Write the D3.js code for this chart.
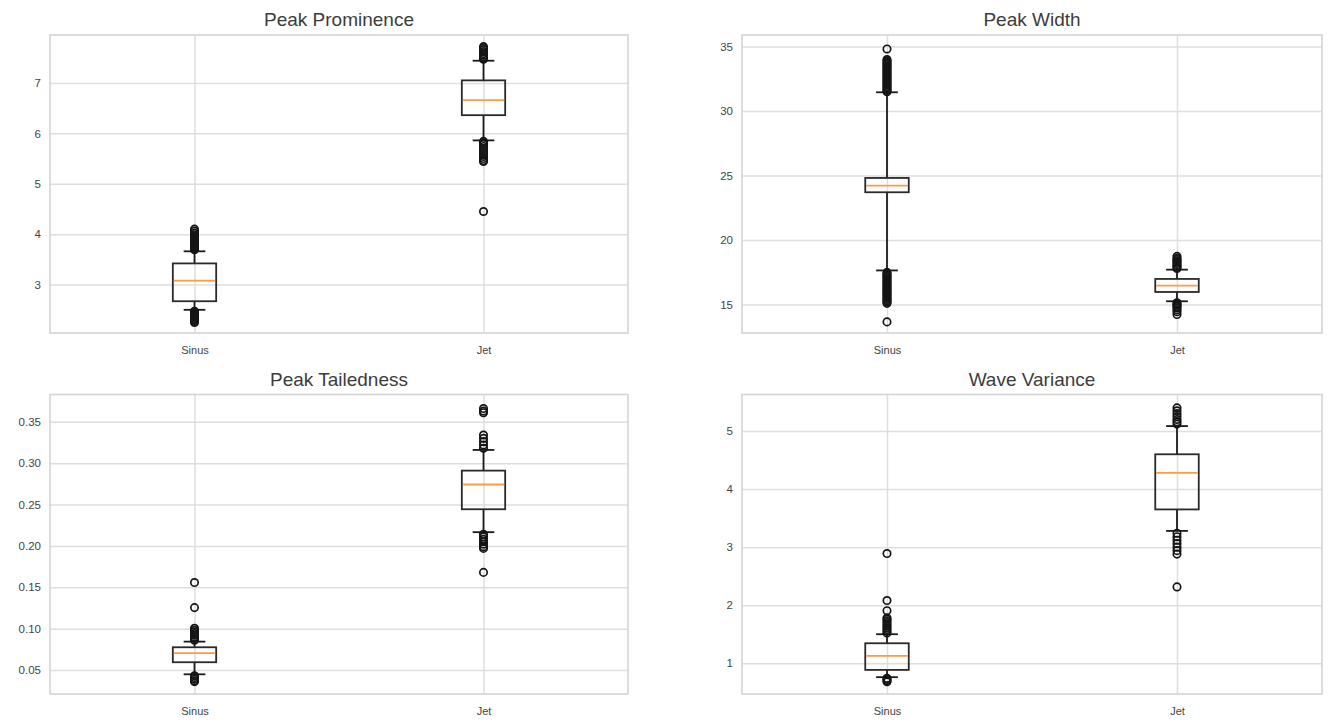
<!DOCTYPE html>
<html>
<head>
<meta charset="utf-8">
<script src="https://cdn.jsdelivr.net/npm/d3@7"></script>
<style>
  body { margin: 0; background: #fff; }
  svg { display: block; font-family: "Liberation Sans", Arial, sans-serif; }
  .grid line { stroke: #dedede; stroke-width: 1.5; }
  .frame { fill: none; stroke: #d4d4d4; stroke-width: 1.6; }
  .tick text { fill: #444; }
  .title { fill: #3c3c3c; }
</style>
</head>
<body>
<svg width="1330" height="726"></svg>
<script>
const width = 1330;
const height = 726;

const categories = ["Sinus", "Jet"];
const titles = ["Peak Prominence", "Peak Width", "Peak Tailedness", "Wave Variance"];

// y ranges and ticks
const yDomains = [[2.04, 7.95], [12.8, 35.9], [0.021, 0.383], [0.47, 5.63]];
const yTicks = [
  [3, 4, 5, 6, 7],
  [15, 20, 25, 30, 35],
  [0.05, 0.10, 0.15, 0.20, 0.25, 0.30, 0.35],
  [1, 2, 3, 4, 5]
];
const tickFormats = ["d", "d", ".2f", "d"];

// box stats per panel: [Sinus, Jet] -> [lowCap, q1, median, q3, highCap]
const prominenceStats = [[2.50, 2.67, 3.08, 3.42, 3.66], [5.86, 6.36, 6.66, 7.05, 7.44]];
const widthStats = [[17.65, 23.71, 24.23, 24.82, 31.46], [15.26, 15.98, 16.47, 16.99, 17.71]];
const tailStats = [[0.0448, 0.0594, 0.0703, 0.0775, 0.0843], [0.2166, 0.2443, 0.2742, 0.2910, 0.3160]];
const varianceStats = [[0.76, 0.885, 1.126, 1.344, 1.50], [3.28, 3.65, 4.28, 4.60, 5.086]];

// fliers per panel: [Sinus, Jet]
const prominenceFliers = [
  [3.69, 3.71, 3.73, 3.75, 3.77, 3.79, 3.81, 3.83, 3.85, 3.87, 3.89, 3.91, 3.93, 3.95, 3.97, 3.99, 4.02, 4.06, 4.10,
   2.47, 2.45, 2.43, 2.41, 2.39, 2.37, 2.35, 2.33, 2.31, 2.29, 2.27, 2.25],
  [7.47, 7.49, 7.52, 7.55, 7.58, 7.62, 7.66, 7.69, 7.72,
   5.84, 5.81, 5.78, 5.74, 5.70, 5.66, 5.62, 5.58, 5.54, 5.50, 5.46, 5.44, 4.45]
];
const widthFliers = [
  [31.5, 31.6, 31.7, 31.8, 31.9, 32.0, 32.1, 32.2, 32.3, 32.4, 32.5, 32.6, 32.7, 32.8, 32.9, 33.0, 33.1, 33.2,
   33.3, 33.4, 33.5, 33.6, 33.7, 33.8, 33.9, 34.0, 34.82,
   17.5, 17.4, 17.3, 17.2, 17.1, 17.0, 16.9, 16.8, 16.7, 16.6, 16.5, 16.4, 16.3, 16.2, 16.1, 16.0, 15.9, 15.8,
   15.7, 15.6, 15.5, 15.4, 15.3, 15.2, 15.1, 13.66],
  [17.8, 17.9, 18.0, 18.1, 18.2, 18.3, 18.4, 18.5, 18.6, 18.74,
   15.15, 15.05, 14.95, 14.85, 14.75, 14.6, 14.45, 14.23]
];
const tailFliers = [
  [0.086, 0.088, 0.090, 0.092, 0.094, 0.096, 0.098, 0.1005, 0.1254, 0.1557,
   0.043, 0.041, 0.039, 0.037, 0.036],
  [0.318, 0.322, 0.326, 0.330, 0.334, 0.361, 0.363, 0.366,
   0.214, 0.211, 0.208, 0.205, 0.202, 0.199, 0.197, 0.168]
];
const varianceFliers = [
  [1.52, 1.55, 1.58, 1.61, 1.64, 1.67, 1.70, 1.73, 1.76, 1.78, 1.905, 2.08, 2.89,
   0.74, 0.72, 0.70, 0.68],
  [5.12, 5.16, 5.20, 5.25, 5.30, 5.35, 5.40,
   3.24, 3.18, 3.12, 3.06, 3.00, 2.94, 2.88, 2.315]
];

const allStats = [prominenceStats, widthStats, tailStats, varianceStats];
const allFliers = [prominenceFliers, widthFliers, tailFliers, varianceFliers];

// panel frames: left, top, width, height
const panels = [
  { x: 50, y: 35, w: 578, h: 298 },
  { x: 742, y: 35, w: 580, h: 298 },
  { x: 50, y: 394.5, w: 578, h: 299.5 },
  { x: 742, y: 394.5, w: 580, h: 299.5 }
];

const svg = d3.select("svg");

const render = (i) => {
  const p = panels[i];
  const stats = allStats[i];
  const fliers = allFliers[i];

  const g = svg.append("g").attr("transform", `translate(${p.x}, ${p.y})`);

  // positions 1,2 on [0.5, 2.5] like matplotlib
  const xScale = d3.scaleLinear().domain([0.5, 2.5]).range([0, p.w]);
  const yScale = d3.scaleLinear().domain(yDomains[i]).range([p.h, 0]);
  const boxW = xScale(1.075) - xScale(0.925);
  const capW = boxW / 2;

  // grid
  const yGrid = g.append("g").attr("class", "grid")
    .call(d3.axisLeft(yScale).tickValues(yTicks[i]).tickSize(-p.w).tickFormat(""));
  yGrid.select(".domain").remove();

  const xGrid = g.append("g").attr("class", "grid")
    .attr("transform", `translate(0, ${p.h})`)
    .call(d3.axisBottom(xScale).tickValues([1, 2]).tickSize(p.h).tickFormat(""));
  xGrid.select(".domain").remove();
  xGrid.selectAll("line").attr("y2", -p.h);

  // tick labels
  const yAxisG = g.append("g")
    .call(d3.axisLeft(yScale).tickValues(yTicks[i]).tickSize(0).tickPadding(9)
      .tickFormat(d3.format(tickFormats[i])));
  yAxisG.select(".domain").remove();
  yAxisG.selectAll("text").style("font-size", "11.5px");

  const xAxisG = g.append("g")
    .attr("transform", `translate(0, ${p.h})`)
    .call(d3.axisBottom(xScale).tickValues([1, 2]).tickSize(0).tickPadding(13)
      .tickFormat((d, k) => categories[k]));
  xAxisG.select(".domain").remove();
  xAxisG.selectAll("text").style("font-size", "11px");

  g.append("rect").attr("class", "frame")
    .attr("x", 0).attr("y", 0).attr("width", p.w).attr("height", p.h);

  // boxes
  const boxes = g.selectAll(".box")
    .data(stats)
    .enter()
    .append("g")
    .attr("class", "box")
    .attr("transform", (d, k) => `translate(${xScale(k + 1)}, 0)`);

  boxes.append("line")
    .attr("x1", 0).attr("x2", 0)
    .attr("y1", d => yScale(d[0])).attr("y2", d => yScale(d[1]))
    .attr("stroke", "#1a1a1a").attr("stroke-width", 1.8);
  boxes.append("line")
    .attr("x1", 0).attr("x2", 0)
    .attr("y1", d => yScale(d[3])).attr("y2", d => yScale(d[4]))
    .attr("stroke", "#1a1a1a").attr("stroke-width", 1.8);

  boxes.selectAll(".cap")
    .data(d => [d[0], d[4]])
    .enter()
    .append("line")
    .attr("x1", -capW / 2).attr("x2", capW / 2)
    .attr("y1", d => yScale(d)).attr("y2", d => yScale(d))
    .attr("stroke", "#1a1a1a").attr("stroke-width", 1.8);

  boxes.append("rect")
    .attr("x", -boxW / 2)
    .attr("width", boxW)
    .attr("y", d => yScale(d[3]))
    .attr("height", d => yScale(d[1]) - yScale(d[3]))
    .attr("fill", "none")
    .attr("stroke", "#2a2a2a")
    .attr("stroke-width", 1.8);

  boxes.append("line")
    .attr("x1", -boxW / 2 + 1).attr("x2", boxW / 2 - 1)
    .attr("y1", d => yScale(d[2])).attr("y2", d => yScale(d[2]))
    .attr("stroke", "#ff9a45").attr("stroke-width", 1.8);

  // fliers
  fliers.forEach((list, k) => {
    g.selectAll(".flier" + k)
      .data(list)
      .enter()
      .append("circle")
      .attr("cx", xScale(k + 1))
      .attr("cy", d => yScale(d))
      .attr("r", 3.7)
      .attr("fill", "none")
      .attr("stroke", "#151515")
      .attr("stroke-width", 1.7);
  });

  svg.append("text")
    .attr("class", "title")
    .attr("x", p.x + p.w / 2)
    .attr("y", p.y - 9)
    .attr("text-anchor", "middle")
    .style("font-size", "19px")
    .text(titles[i]);
};

titles.forEach((t, i) => render(i));
</script>
</body>
</html>
